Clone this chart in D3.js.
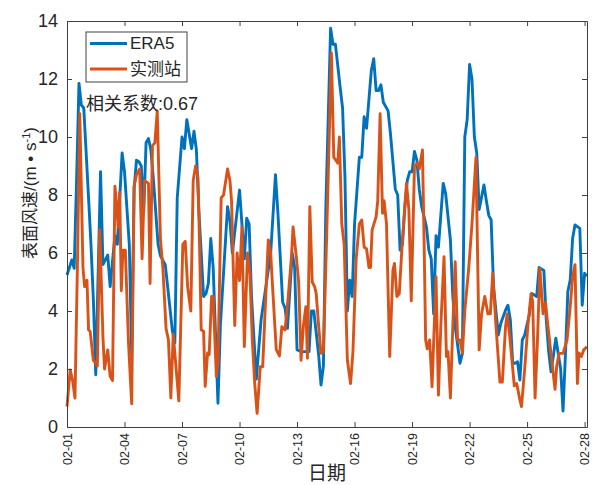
<!DOCTYPE html>
<html>
<head>
<meta charset="utf-8">
<script src="https://cdn.jsdelivr.net/npm/d3@7/dist/d3.min.js"></script>
<style>
  body { margin: 0; background: #fff; }
  svg text { font-family: "Liberation Sans", Arial, "Noto Sans CJK SC", sans-serif; fill: #262626; }
</style>
</head>
<body>
<div id="chart"></div>
<script>
// hours since 02-01 00:00
const era5Hours = [0,6,9,12,15,18,21,27,30,33,36,42,45,51,54,60,63,69,72,78,81,84,87,90,93,96,99,102,105,108,
  114,117,123,126,132,135,138,144,147,150,156,159,162,165,171,174,177,180,183,189,192,201,204,207,216,219,222,225,228,231,
  237,243,249,255,261,264,270,273,276,282,285,288,294,300,303,306,309,315,318,321,324,330,333,336,342,345,348,351,354,357,
  360,366,369,372,375,381,384,387,390,393,396,402,405,411,414,417,420,423,426,429,432,435,438,441,444,450,453,456,459,462,
  465,471,474,480,483,486,492,495,498,501,504,507,510,513,516,522,525,528,531,534,540,543,549,552,555,558,561,564,567,570,
  573,579,582,588,591,597,600,603,606,612,618,621,624,627,630,633,636,642,645,648,651];
const era5Speed = [5.24,5.76,5.47,8.5,11.85,11.1,11.0,7.9,6.3,4.4,1.8,8.8,5.6,5.93,4.84,6.6,6.3,9.45,8.8,6.3,2.5,8.2,9.2,9.15,9.0,7.4,9.8,9.95,9.55,8.6,
  6.3,5.9,5.6,4.84,3.3,2.9,7.9,10.0,9.6,10.6,9.6,10.2,9.55,7.5,4.5,4.6,4.95,6.5,5.5,0.82,3.5,7.6,7.1,6.0,8.17,7.0,5.8,7.2,7.0,4.5,
  1.65,3.7,4.84,6.0,8.7,7.4,4.3,4.1,3.4,6.0,5.5,2.66,2.6,2.6,2.6,4.0,4.0,2.5,1.45,2.1,7.5,13.75,13.2,13.2,11.7,11.0,8.6,4.0,5.06,4.5,
  7.0,9.3,9.3,10.7,10.3,12.3,12.7,11.6,11.6,11.8,11.2,10.9,10.1,8.2,8.0,6.1,6.3,7.6,8.5,8.8,8.8,9.5,9.2,8.2,7.6,6.9,6.1,5.8,3.9,6.6,
  6.2,8.4,8.06,6.45,4.5,3.46,2.2,2.54,10.0,10.6,12.5,12.0,10.0,9.44,7.5,8.35,7.8,7.3,7.14,4.84,3.17,3.57,4.03,4.2,3.7,2.2,2.2,2.25,1.62,3.0,
  3.17,3.9,4.6,4.5,5.5,5.4,3.7,2.6,1.9,3.06,2.0,0.55,2.5,4.67,5.07,6.5,6.97,6.85,4.2,5.3,5.2];

const obsHours = [0,4,7,10,13,16,20,22,25,27,29,33,36,38,41,45,47,51,54,57,60,62,64,66,68,70,73,77,81,84,
  87,91,94,97,102,104,107,110,113,117,120,124,127,130,133,140,145,148,151,155,158,161,164,166,168,171,173,176,178,181,
  183,187,189,193,196,201,204,206,210,213,216,219,222,226,229,232,235,238,242,245,248,252,255,257,262,266,269,273,277,281,
  283,287,290,293,296,299,301,304,307,310,312,315,318,321,325,331,334,339,341,344,347,351,355,358,362,366,369,372,375,378,
  380,382,387,389,392,395,397,400,404,408,410,413,416,420,425,428,431,435,439,441,445,447,449,451,454,457,462,465,468,472,
  475,477,480,483,486,489,492,495,498,503,507,512,516,519,523,527,530,533,537,542,545,549,551,554,560,563,567,569,573,577,
  581,583,586,589,592,596,599,602,606,611,613,616,621,626,630,633,636,639,641,644,647,651];
const obsSpeed = [0.7,1.97,1.6,1.0,5.5,10.8,5.5,4.84,5.06,3.35,3.3,2.3,2.2,2.1,6.8,3.1,2.0,2.66,1.75,1.6,8.3,7.7,6.9,8.1,4.7,6.1,6.1,2.9,0.8,8.3,
  8.7,8.9,5.8,8.5,8.4,4.95,9.7,9.8,10.9,6.45,5.5,3.4,3.0,1.0,3.2,0.9,6.3,6.4,4.84,4.0,8.5,9.0,8.6,6.2,3.35,3.3,1.4,2.55,2.5,4.5,
  4.5,1.74,2.2,7.9,8.0,8.9,8.5,7.8,3.5,6.0,5.05,6.9,2.77,6.0,5.3,3.0,1.5,0.47,2.08,2.08,4.0,6.45,6.0,5.0,2.66,2.45,3.46,3.35,4.5,5.87,
  6.9,5.9,5.0,2.3,3.5,4.15,2.37,7.6,5.0,4.84,4.6,3.5,2.54,2.6,6.5,12.9,9.3,9.1,10.0,7.0,6.3,2.3,1.5,2.6,5.8,7.0,7.14,6.2,6.15,5.5,
  5.5,6.8,7.25,7.8,10.8,7.37,7.8,7.0,2.43,5.4,5.64,4.5,4.6,6.5,8.4,7.5,4.35,9.0,9.1,8.9,9.55,6.5,3.0,2.7,3.0,1.39,5.18,1.1,3.5,5.87,
  2.43,2.6,1.0,3.5,5.7,3.0,3.0,2.54,4.0,5.5,7.0,9.3,2.66,3.9,4.5,3.9,3.9,5.3,3.5,1.55,1.55,3.45,3.9,3.2,1.42,1.5,0.93,0.7,2.0,3.5,
  4.6,4.3,1.0,3.0,5.47,3.9,4.3,3.5,2.5,1.3,2.08,2.54,2.54,3.0,4.15,5.18,5.6,1.5,2.55,2.43,2.66,2.77];

const tickHours = [0,72,144,216,288,360,432,504,576,648];
const tickLabels = ["02-01","02-04","02-07","02-10","02-13","02-16","02-19","02-22","02-25","02-28"];
const yTicks = [0,2,4,6,8,10,12,14];
const seriesNames = ["ERA5", "实测站"];
const seriesColors = ["#0072BD", "#D95319"];

const W = 592, H = 485;
const plotLeft = 67, plotRight = 587, plotTop = 21, plotBottom = 427;

const svg = d3.select("#chart").append("svg").attr("width", W).attr("height", H);

const x = d3.scaleLinear().domain([0, 651]).range([plotLeft, plotRight]);
const y = d3.scaleLinear().domain([0, 14]).range([plotBottom, plotTop]);

function zip(hs, vs) { return hs.map((h, i) => ({h: h, v: vs[i]})); }
const series = [zip(era5Hours, era5Speed), zip(obsHours, obsSpeed)];

const line = d3.line().x(d => x(d.h)).y(d => y(d.v));

series.forEach((s, i) => {
  svg.append("path")
    .datum(s)
    .attr("fill", "none")
    .attr("stroke", seriesColors[i])
    .attr("stroke-width", 2.9)
    .attr("stroke-linejoin", "round")
    .attr("d", line);
});

// axes, MATLAB-like box with inward ticks
const axisColor = "#404040";
const gL = svg.append("g").attr("transform", `translate(${plotLeft},0)`)
  .call(d3.axisLeft(y).tickValues(yTicks).tickSize(-5).tickSizeOuter(0).tickPadding(9));
gL.selectAll("text").style("font-size", "18px");

svg.append("g").attr("transform", `translate(${plotRight},0)`)
  .call(d3.axisRight(y).tickValues(yTicks).tickSize(-5).tickSizeOuter(0).tickFormat(""));
svg.append("g").attr("transform", `translate(0,${plotTop})`)
  .call(d3.axisTop(x).tickValues(tickHours).tickSize(-5).tickSizeOuter(0).tickFormat(""));

const gB = svg.append("g").attr("transform", `translate(0,${plotBottom})`)
  .call(d3.axisBottom(x).tickValues(tickHours).tickSize(-5).tickSizeOuter(0)
    .tickFormat((d, i) => tickLabels[i]));
gB.selectAll("text")
  .style("font-size", "12.5px")
  .attr("transform", "rotate(-90)")
  .attr("x", -6).attr("y", 0).attr("dy", "0.33em")
  .style("text-anchor", "end");

svg.selectAll(".domain, .tick line").attr("stroke", axisColor);

// axis titles
svg.append("text")
  .attr("x", (plotLeft + plotRight) / 2).attr("y", 480)
  .attr("text-anchor", "middle")
  .style("font-size", "19px")
  .text("日期");

const yl = svg.append("text")
  .attr("transform", "translate(36,193) rotate(-90)")
  .attr("text-anchor", "middle")
  .style("font-size", "17px");
yl.append("tspan").text("表面风速/(m • s");
yl.append("tspan").attr("dy", -6).style("font-size", "11px").text("-1");
yl.append("tspan").attr("dy", 6).text(")");

// correlation note
svg.append("text")
  .attr("x", 86).attr("y", 110)
  .style("font-size", "18px")
  .text("相关系数:0.67");

// legend
const leg = svg.append("g");
leg.append("rect")
  .attr("x", 86).attr("y", 32).attr("width", 101).attr("height", 50)
  .attr("fill", "#fff").attr("stroke", axisColor).attr("stroke-width", 1);
seriesNames.forEach((name, i) => {
  const ly = 43.5 + i * 25.5;
  leg.append("line")
    .attr("x1", 90).attr("x2", 127).attr("y1", ly).attr("y2", ly)
    .attr("stroke", seriesColors[i]).attr("stroke-width", 2.9);
  leg.append("text")
    .attr("x", 130).attr("y", ly).attr("dy", "0.35em")
    .style("font-size", "17px")
    .text(name);
});
</script>
</body>
</html>
